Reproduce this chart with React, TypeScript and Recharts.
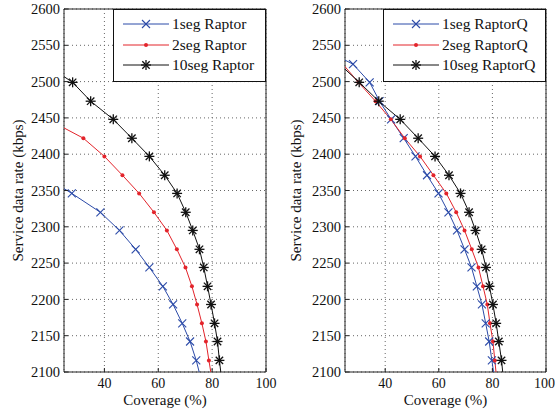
import React from "react";
import { CartesianGrid, Legend, Line, LineChart, ReferenceArea, XAxis, YAxis } from "recharts";

// service data rate steps (kbps), shared by every curve
const rates = [2550, 2524, 2499, 2473, 2448, 2422, 2397, 2371, 2346, 2320, 2295, 2269, 2244, 2218, 2193, 2167, 2142, 2116, 2091];

// coverage (%) per rate, null where the curve has no point
const raptor1 = [null, null, null, null, null, null, null, 17, 27.9, 38.5, 45.6, 51.6, 56.7, 61.7, 65.5, 68.9, 71.8, 74.1, 75.8];
const raptor2 = [null, null, null, null, 19, 32.2, 40.0, 46.7, 52.9, 58.4, 63.2, 66.9, 70.1, 72.5, 74.4, 76.2, 77.7, 78.8, 79.9];
const raptor10 = [null, 18, 28.2, 34.9, 43.3, 50.2, 56.7, 62.4, 67.0, 70.2, 72.8, 75.3, 76.9, 78.3, 79.6, 80.9, 82.0, 82.7, 83.5];

const raptorQ1 = [14, 28.0, 34.2, 37.9, 42.2, 46.9, 51.3, 55.6, 59.9, 63.6, 66.8, 69.6, 72.2, 74.2, 76.1, 77.5, 78.8, 79.8, 80.8];
const raptorQ2 = [null, 24.2, 30.0, 36.4, 42.1, 47.3, 53.0, 58.0, 62.8, 66.5, 69.6, 72.3, 74.8, 76.5, 78.1, 79.1, 80.2, 80.9, 81.6];
const raptorQ10 = [null, 23, 30.3, 37.6, 45.6, 52.3, 58.6, 63.8, 68.1, 71.3, 73.7, 76.0, 77.6, 78.9, 80.2, 81.4, 82.4, 83.4, 84.1];

const xTicks = [40, 60, 80, 100];
const yTicks = [2100, 2150, 2200, 2250, 2300, 2350, 2400, 2450, 2500, 2550, 2600];

const FONT = '"Liberation Serif", "Times New Roman", serif';
const BLUE = "#2b4aa8";
const RED = "#e3242b";
const BLACK = "#111111";

type Kind = "x" | "dot" | "star";

const toPoints = (cov: (number | null)[]) =>
  rates.map((rate, i) => ({ rate, cov: cov[i] })).filter((d) => d.cov != null);

function Marker({ kind, cx, cy, color }: { kind: Kind; cx: number; cy: number; color: string }) {
  if (kind === "x") {
    return (
      <g stroke={color} strokeWidth={1.1}>
        <line x1={cx - 4} y1={cy - 4} x2={cx + 4} y2={cy + 4} />
        <line x1={cx - 4} y1={cy + 4} x2={cx + 4} y2={cy - 4} />
      </g>
    );
  }
  if (kind === "dot") return <circle cx={cx} cy={cy} r={2} fill={color} />;
  return (
    <g stroke={color} strokeWidth={1.3}>
      <line x1={cx - 5} y1={cy} x2={cx + 5} y2={cy} />
      <line x1={cx} y1={cy - 5} x2={cx} y2={cy + 5} />
      <line x1={cx - 3.7} y1={cy - 3.7} x2={cx + 3.7} y2={cy + 3.7} />
      <line x1={cx - 3.7} y1={cy + 3.7} x2={cx + 3.7} y2={cy - 3.7} />
    </g>
  );
}

type Series = { name: string; cov: (number | null)[]; color: string; kind: Kind };

const leftSeries: Series[] = [
  { name: "1seg Raptor", cov: raptor1, color: BLUE, kind: "x" },
  { name: "2seg Raptor", cov: raptor2, color: RED, kind: "dot" },
  { name: "10seg Raptor", cov: raptor10, color: BLACK, kind: "star" },
];

const rightSeries: Series[] = [
  { name: "1seg RaptorQ", cov: raptorQ1, color: BLUE, kind: "x" },
  { name: "2seg RaptorQ", cov: raptorQ2, color: RED, kind: "dot" },
  { name: "10seg RaptorQ", cov: raptorQ10, color: BLACK, kind: "star" },
];

function LegendBox({ series, width }: { series: Series[]; width: number }) {
  return (
    <div
      style={{
        width,
        boxSizing: "border-box",
        border: "1px solid #111",
        background: "#fff",
        padding: "4px 0 5px 0",
        fontFamily: FONT,
        fontSize: 15.5,
        color: "#111",
      }}
    >
      {series.map((s) => (
        <div key={s.name} style={{ display: "flex", alignItems: "center", height: 20.5 }}>
          <svg width={46} height={14} style={{ marginLeft: 9, marginRight: 3 }}>
            <line x1={0} y1={7} x2={46} y2={7} stroke={s.color} strokeWidth={1} />
            <Marker kind={s.kind} cx={23} cy={7} color={s.color} />
          </svg>
          <span style={{ whiteSpace: "nowrap" }}>{s.name}</span>
        </div>
      ))}
    </div>
  );
}

function Panel({
  series,
  axisWidth,
  chartWidth,
  plotWidth,
  legendLeft,
  legendWidth,
}: {
  series: Series[];
  axisWidth: number;
  chartWidth: number;
  plotWidth: number;
  legendLeft: number;
  legendWidth: number;
}) {
  return (
    <LineChart
      width={chartWidth}
      height={413}
      margin={{ top: 9, right: chartWidth - axisWidth - plotWidth, left: 0, bottom: 0 }}
    >
      <CartesianGrid stroke="#666" strokeDasharray="1 3" />
      <XAxis
        dataKey="cov"
        type="number"
        domain={[25, 100]}
        ticks={xTicks}
        allowDataOverflow
        axisLine={false}
        tickSize={-4}
        tickMargin={10}
        tickLine={{ stroke: "#222" }}
        height={41}
        tick={{ fill: "#111", fontFamily: FONT, fontSize: 14 }}
        label={(p: any) => {
          const vb = p.viewBox;
          return (
            <text x={vb.x + vb.width / 2} y={vb.y + 33} textAnchor="middle" fontFamily={FONT} fontSize={15} fill="#111">
              Coverage (%)
            </text>
          );
        }}
      />
      <YAxis
        dataKey="rate"
        type="number"
        domain={[2100, 2600]}
        ticks={yTicks}
        allowDataOverflow
        axisLine={false}
        width={axisWidth}
        tickSize={-4}
        tickMargin={8}
        tickLine={{ stroke: "#222" }}
        tick={{ fill: "#111", fontFamily: FONT, fontSize: 14.5 }}
        label={(p: any) => {
          const vb = p.viewBox;
          const cx = vb.x + 23;
          const cy = vb.y + vb.height / 2;
          return (
            <text
              x={cx}
              y={cy}
              transform={`rotate(-90, ${cx}, ${cy})`}
              textAnchor="middle"
              fontFamily={FONT}
              fontSize={15}
              fill="#111"
            >
              Service data rate (kbps)
            </text>
          );
        }}
      />
      <ReferenceArea x1={25} x2={100} y1={2100} y2={2600} fill="none" stroke="#222" strokeWidth={1} />
      {series.map((s) => (
        <Line
          key={s.name}
          data={toPoints(s.cov)}
          dataKey="rate"
          name={s.name}
          type="linear"
          stroke={s.color}
          strokeWidth={1}
          isAnimationActive={false}
          dot={(p: any) => <Marker key={`${s.name}-${p.index}`} kind={s.kind} cx={p.cx} cy={p.cy} color={s.color} />}
          activeDot={false}
        />
      ))}
      <Legend
        layout="vertical"
        align="center"
        verticalAlign="middle"
        wrapperStyle={{ top: 9, left: legendLeft, width: legendWidth, height: "auto" }}
        content={() => <LegendBox series={series} width={legendWidth} />}
      />
    </LineChart>
  );
}

export default function App() {
  return (
    <div style={{ position: "absolute", left: 0, top: 0, width: 555, height: 413, background: "#fff" }}>
      <div style={{ position: "absolute", left: 0, top: 0 }}>
        <Panel series={leftSeries} axisWidth={64} chartWidth={278} plotWidth={202} legendLeft={113} legendWidth={153} />
      </div>
      <div style={{ position: "absolute", left: 278, top: 0 }}>
        <Panel series={rightSeries} axisWidth={67} chartWidth={277} plotWidth={201} legendLeft={105} legendWidth={163} />
      </div>
    </div>
  );
}
